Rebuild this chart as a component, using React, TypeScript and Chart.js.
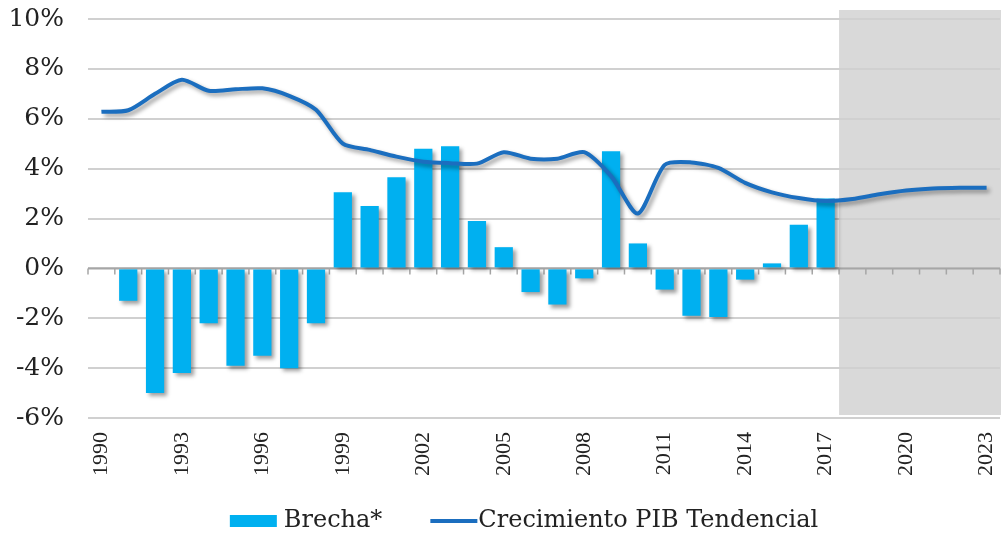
import React, { useEffect, useRef } from "react";
import { Chart, registerables } from "chart.js";

Chart.register(...registerables);

const years: string[] = [
  "1990", "1991", "1992", "1993", "1994", "1995", "1996", "1997", "1998", "1999",
  "2000", "2001", "2002", "2003", "2004", "2005", "2006", "2007", "2008", "2009",
  "2010", "2011", "2012", "2013", "2014", "2015", "2016", "2017", "2018", "2019",
  "2020", "2021", "2022", "2023",
];

const brecha: (number | null)[] = [
  0, -1.3, -5.0, -4.2, -2.2, -3.9, -3.5, -4.0, -2.2, 3.05,
  2.5, 3.65, 4.8, 4.9, 1.9, 0.85, -0.95, -1.45, -0.4, 4.7,
  1.0, -0.85, -1.9, -1.95, -0.45, 0.2, 1.75, 2.8, null, null,
  null, null, null, null,
];

const pibTendencial: number[] = [
  6.28, 6.34, 7.0, 7.56, 7.12, 7.18, 7.22, 6.92, 6.36, 5.0,
  4.75, 4.48, 4.28, 4.22, 4.2, 4.66, 4.4, 4.4, 4.66, 3.7,
  2.2, 4.15, 4.25, 4.03, 3.43, 3.05, 2.82, 2.7, 2.78, 2.97,
  3.12, 3.2, 3.23, 3.23,
];

const yTicks: number[] = [-6, -4, -2, 0, 2, 4, 6, 8, 10];
const legendLabels: string[] = ["Brecha*", "Crecimiento PIB Tendencial"];
const projectionStartIndex = 28;

const BAR_COLOR = "#00B0F0";
const LINE_COLOR = "#1B6EBF";
const SERIF = "'Liberation Serif', 'Times New Roman', serif";
const WIDE_SERIF = "'DejaVu Serif', 'Liberation Serif', serif";

const decorPlugin = {
  id: "decor",
  beforeDraw(chart: any) {
    const { ctx, chartArea, scales } = chart;
    const x = scales.x;
    const y = scales.y;
    const xs =
      (x.getPixelForValue(projectionStartIndex - 1) + x.getPixelForValue(projectionStartIndex)) / 2;
    ctx.save();
    ctx.fillStyle = "#D9D9D9";
    const top = y.getPixelForValue(10) - 9;
    const bottom = y.getPixelForValue(-6) - 3;
    ctx.fillRect(xs, top, chartArea.right + 1 - xs, bottom - top);
    ctx.restore();
  },
  beforeDatasetsDraw(chart: any) {
    const { ctx, chartArea, scales } = chart;
    const y0 = scales.y.getPixelForValue(0);
    ctx.save();
    ctx.strokeStyle = "#A6A6A6";
    ctx.lineWidth = 2;
    ctx.beginPath();
    ctx.moveTo(chartArea.left, y0);
    ctx.lineTo(chartArea.right, y0);
    ctx.stroke();
    const n = years.length;
    const w = (chartArea.right - chartArea.left) / n;
    ctx.lineWidth = 1.5;
    ctx.beginPath();
    for (let i = 0; i <= n; i++) {
      const px = chartArea.left + i * w;
      ctx.moveTo(px, y0);
      ctx.lineTo(px, y0 + 6);
    }
    ctx.stroke();
    ctx.restore();
  },
  beforeDatasetDraw(chart: any) {
    const ctx = chart.ctx;
    ctx.save();
    ctx.shadowColor = "rgba(0,0,0,0.38)";
    ctx.shadowBlur = 4;
    ctx.shadowOffsetX = 3;
    ctx.shadowOffsetY = 3;
  },
  afterDatasetDraw(chart: any) {
    chart.ctx.restore();
  },
  afterDraw(chart: any) {
    // legend
    const ctx = chart.ctx;
    const boxW = 47;
    const gapText = 7;
    const gapItems = 48;
    const cy = 521;
    const centerX = 524;
    ctx.save();
    ctx.font = `24px ${WIDE_SERIF}`;
    ctx.textBaseline = "middle";
    ctx.textAlign = "left";
    const w0 = ctx.measureText(legendLabels[0]).width;
    const w1 = ctx.measureText(legendLabels[1]).width;
    const total = boxW + gapText + w0 + gapItems + boxW + 1 + w1;
    let x = centerX - total / 2;
    ctx.fillStyle = BAR_COLOR;
    ctx.fillRect(x, cy - 6, boxW, 12);
    x += boxW + gapText;
    ctx.fillStyle = "#222";
    ctx.fillText(legendLabels[0], x, cy);
    x += w0 + gapItems;
    ctx.strokeStyle = LINE_COLOR;
    ctx.lineWidth = 4;
    ctx.beginPath();
    ctx.moveTo(x, cy);
    ctx.lineTo(x + boxW, cy);
    ctx.stroke();
    x += boxW + 1;
    ctx.fillText(legendLabels[1], x, cy);
    ctx.restore();
  },
};

export default function App() {
  const ref = useRef<HTMLCanvasElement | null>(null);

  useEffect(() => {
    if (!ref.current) return;
    const chart = new Chart(ref.current, {
      type: "bar",
      data: {
        labels: years,
        datasets: [
          {
            type: "line",
            label: legendLabels[1],
            data: pibTendencial,
            borderColor: LINE_COLOR,
            backgroundColor: LINE_COLOR,
            borderWidth: 4,
            pointRadius: 0,
            tension: 0.25,
            order: 0,
          },
          {
            type: "bar",
            label: legendLabels[0],
            data: brecha,
            backgroundColor: BAR_COLOR,
            borderWidth: 0,
            barPercentage: 0.68,
            categoryPercentage: 1,
            order: 1,
          },
        ],
      },
      options: {
        animation: false,
        responsive: false,
        maintainAspectRatio: false,
        layout: { padding: { left: 0, right: 3, top: 19, bottom: 56 } },
        plugins: {
          tooltip: { enabled: false },
          legend: { display: false },
        },
        scales: {
          x: {
            grid: { display: false },
            border: { display: false },
            ticks: {
              autoSkip: false,
              minRotation: 90,
              maxRotation: 90,
              padding: 6,
              color: "#222",
              font: { family: SERIF, size: 22 },
              callback: (_v: any, i: number) =>
                (parseInt(years[i], 10) - 1990) % 3 === 0 ? years[i] : "",
            },
            afterFit: (s: any) => {
              s.height = 72;
              s.paddingLeft = 0;
              s.paddingRight = 0;
            },
          },
          y: {
            min: -6,
            max: 10,
            afterBuildTicks: (s: any) => {
              s.ticks = yTicks.map((v) => ({ value: v }));
            },
            grid: { color: "#D0D0D0", lineWidth: 2, drawTicks: false },
            border: { display: false },
            ticks: {
              padding: 24,
              color: "#222",
              font: { family: WIDE_SERIF, size: 25 },
              callback: (v: any) => `${v}%`,
            },
            afterFit: (s: any) => {
              s.width = 88;
              s.paddingTop = 0;
              s.paddingBottom = 0;
            },
          },
        },
      },
      plugins: [decorPlugin],
    });
    return () => chart.destroy();
  }, []);

  return (
    <div style={{ position: "fixed", left: 0, top: 0, width: 1003, height: 546, background: "#fff" }}>
      <canvas ref={ref} width={1003} height={546} style={{ display: "block" }} />
    </div>
  );
}
